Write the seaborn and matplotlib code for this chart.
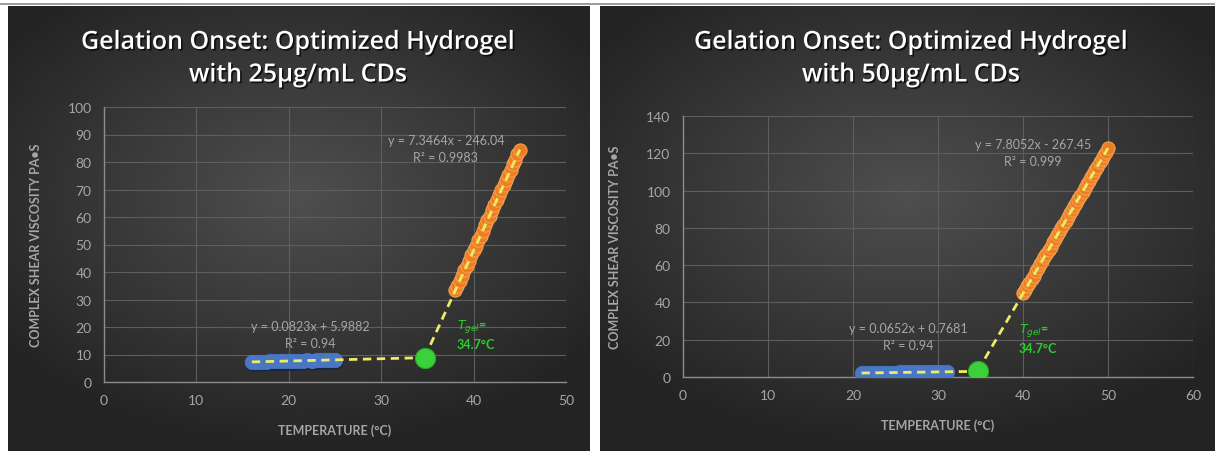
import numpy as np
import pandas as pd
import matplotlib
matplotlib.use("Agg")
import matplotlib.pyplot as plt
import matplotlib.patheffects as pe
from matplotlib.lines import Line2D
import seaborn as sns

# ---- data ----
# 25 ug/mL CDs
blue25_x = [16, 16.5, 17, 17.5, 18, 18.5, 19, 19.5, 20, 20.5, 21, 21.5, 22, 22.5, 23, 23.5, 24, 24.5, 25]
blue25_y = [7.25, 7.38, 7.36, 7.45, 7.50, 7.48, 7.58, 7.57, 7.65, 7.70, 7.69, 7.78, 7.82, 7.81, 7.90, 7.93, 7.94, 8.03, 8.02]
orange25_x = [38, 38.25, 38.5, 38.75, 39, 39.25, 39.5, 39.75, 40, 40.25, 40.5, 40.75, 41, 41.25, 41.5,
              41.75, 42, 42.25, 42.5, 42.75, 43, 43.25, 43.5, 43.75, 44, 44.25, 44.5, 44.75, 45]
orange25_y = [33.4, 35.0, 36.6, 38.7, 40.6, 42.2, 44.0, 46.1, 47.9, 49.5, 51.6, 53.2, 55.0, 57.1, 58.9,
              60.5, 62.6, 64.2, 66.3, 68.0, 69.7, 71.8, 73.4, 75.4, 77.1, 79.1, 80.8, 82.8, 84.4]
gel25 = (34.7, 8.8)
eq25_low = "y = 0.0823x + 5.9882\nR² = 0.94"
eq25_high = "y = 7.3464x - 246.04\nR² = 0.9983"

# 50 ug/mL CDs
blue50_x = [21, 21.5, 22, 22.5, 23, 23.5, 24, 24.5, 25, 25.5, 26, 26.5, 27, 27.5, 28, 28.5, 29, 29.5, 30, 30.5, 31]
blue50_y = [2.14, 2.18, 2.19, 2.25, 2.26, 2.31, 2.32, 2.38, 2.39, 2.44, 2.45, 2.51, 2.52, 2.57, 2.58, 2.64, 2.65, 2.70, 2.71, 2.77, 2.78]
orange50_x = [40, 40.25, 40.5, 40.75, 41, 41.25, 41.5, 41.75, 42, 42.25, 42.5, 42.75, 43, 43.25, 43.5, 43.75,
              44, 44.25, 44.5, 44.75, 45, 45.25, 45.5, 45.75, 46, 46.25, 46.5, 46.75, 47, 47.25, 47.5, 47.75,
              48, 48.25, 48.5, 48.75, 49, 49.25, 49.5, 49.75, 50]
orange50_y = [45.0, 46.6, 48.8, 50.5, 52.7, 54.4, 56.6, 58.3, 60.5, 62.2, 64.4, 66.1, 68.3, 70.0, 72.2, 73.9,
              76.1, 77.8, 80.0, 81.7, 83.9, 85.6, 87.8, 89.5, 91.7, 93.4, 95.6, 97.3, 99.5, 101.2, 103.4, 105.1,
              107.3, 109.0, 111.2, 112.9, 115.1, 116.8, 119.0, 120.7, 122.9]
gel50 = (34.7, 3.0)
eq50_low = "y = 0.0652x + 0.7681\nR² = 0.94"
eq50_high = "y = 7.8052x - 267.45\nR² = 0.999"

titles = ["Gelation Onset: Optimized Hydrogel\nwith 25µg/mL CDs",
          "Gelation Onset: Optimized Hydrogel\nwith 50µg/mL CDs"]
tgel_label = "$T_{gel}$=\n34.7°C"
xlabel = "TEMPERATURE (°C)"
ylabel = "COMPLEX SHEAR VISCOSITY PA•S"

sns.set_theme(style="dark")
plt.rcParams['font.family'] = ['Lato', 'DejaVu Sans']

TICK = '#a6a6a6'
GRID = '#5e5e5e'
SMALL = ['Lato', 'DejaVu Sans']

fig = plt.figure(figsize=(12.15, 4.52), dpi=100, facecolor='white')

# thin grey rule at the top of the image
fig.add_artist(Line2D([0, 1], [0.989, 0.989], transform=fig.transFigure, color='#8a8a8a', lw=1.2))


def panel_background(rect):
    bg = fig.add_axes(rect, zorder=0)
    yy, xx = np.mgrid[-1:1:200j, -1:1:300j]
    r = np.sqrt((xx * 0.9) ** 2 + ((yy + 0.15) * 1.0) ** 2)
    g = np.clip(0.31 - 0.15 * r, 0.14, 0.31)
    bg.imshow(np.dstack([g, g, g]), aspect='auto', extent=[0, 1, 0, 1])
    bg.set_axis_off()


def draw_chart(rect, bx, by, ox, oy, gel, eq_low, eq_high, title, xmax, ymax, ystep,
               pos_low, pos_high, pos_gel, title_x):
    ax = fig.add_axes(rect, zorder=2)
    ax.set_facecolor('none')

    low = pd.DataFrame({"x": bx, "y": by})
    high = pd.DataFrame({"x": ox, "y": oy})

    # linear trend lines, each carried to the gel point
    p_low = np.polyfit(low.x, low.y, 1)
    p_high = np.polyfit(high.x, high.y, 1)
    t_low = pd.DataFrame({"x": [low.x.min(), gel[0]]})
    t_low["y"] = np.polyval(p_low, t_low.x)
    t_high = pd.DataFrame({"x": [gel[0], high.x.max()]})
    t_high["y"] = np.polyval(p_high, t_high.x)

    # soft shadow under the low-temperature series
    sns.scatterplot(x=low.x + 0.15, y=low.y - ymax * 0.008, ax=ax, s=120, color='#15203a',
                    edgecolor='none', alpha=0.8, zorder=2)
    sns.scatterplot(data=low, x="x", y="y", ax=ax, s=110, color='#4a76c6',
                    edgecolor='#4a76c6', linewidth=0.5, zorder=3)
    sns.scatterplot(data=high, x="x", y="y", ax=ax, s=90, color='#ee7d22',
                    edgecolor='#f4a050', linewidth=0.8, zorder=3)
    for t in (t_low, t_high):
        sns.lineplot(data=t, x="x", y="y", ax=ax, color='#ecec66', lw=2.0,
                     zorder=4).lines[-1].set_dashes((3, 2))
    sns.scatterplot(x=[gel[0]], y=[gel[1]], ax=ax, s=210, color='#3ad13a',
                    edgecolor='#2aa52a', linewidth=0.8, zorder=5)

    ax.text(pos_low[0], pos_low[1], eq_low, color=TICK, fontsize=9, ha='center', va='center',
            linespacing=1.5, family=SMALL)
    ax.text(pos_high[0], pos_high[1], eq_high, color=TICK, fontsize=9, ha='center', va='center',
            linespacing=1.5, family=SMALL)
    ax.text(pos_gel[0], pos_gel[1], tgel_label, color='#2ecc2e', fontsize=9, ha='left', va='center',
            linespacing=1.4, fontweight='bold', family=SMALL)

    ax.set_xlim(0, xmax)
    ax.set_ylim(0, ymax)
    ax.set_xticks(np.arange(0, xmax + 1, 10))
    ax.set_yticks(np.arange(0, ymax + 1, ystep))
    ax.grid(True, color=GRID, lw=0.8)
    ax.tick_params(colors=TICK, labelsize=10, length=0, pad=9)
    for side in ('top', 'right'):
        ax.spines[side].set_visible(False)
    for side in ('left', 'bottom'):
        ax.spines[side].set_color('#8c8c8c')
        ax.spines[side].set_linewidth(1.0)
    ax.set_xlabel(xlabel, color=TICK, fontsize=9, fontweight='bold', labelpad=12, family=SMALL)
    ax.set_ylabel(ylabel, color=TICK, fontsize=9, fontweight='bold', labelpad=18, family=SMALL)

    fig.text(title_x, 0.868, title, color='white', fontsize=18, fontweight='semibold',
             ha='center', va='center', linespacing=1.4, family=['Open Sans', 'DejaVu Sans'],
             path_effects=[pe.withSimplePatchShadow(offset=(1.2, -1.2), shadow_rgbFace='black', alpha=0.7)])
    return ax


# left panel
panel_background([8 / 1215, 0, 582 / 1215, 445 / 452])
draw_chart([104 / 1215, 69 / 452, 462 / 1215, 275 / 452],
           blue25_x, blue25_y, orange25_x, orange25_y, gel25, eq25_low, eq25_high, titles[0],
           50, 100, 10, (22.3, 17.2), (37.0, 84.8), (38.2, 17.8), 298 / 1215)

# right panel
panel_background([600 / 1215, 0, 615 / 1215, 445 / 452])
draw_chart([683 / 1215, 74 / 452, 510 / 1215, 261 / 452],
           blue50_x, blue50_y, orange50_x, orange50_y, gel50, eq50_low, eq50_high, titles[1],
           60, 140, 20, (26.5, 21.5), (41.2, 120.5), (39.5, 21.0), 911 / 1215)

fig.savefig("out.png", dpi=100, facecolor='white')
